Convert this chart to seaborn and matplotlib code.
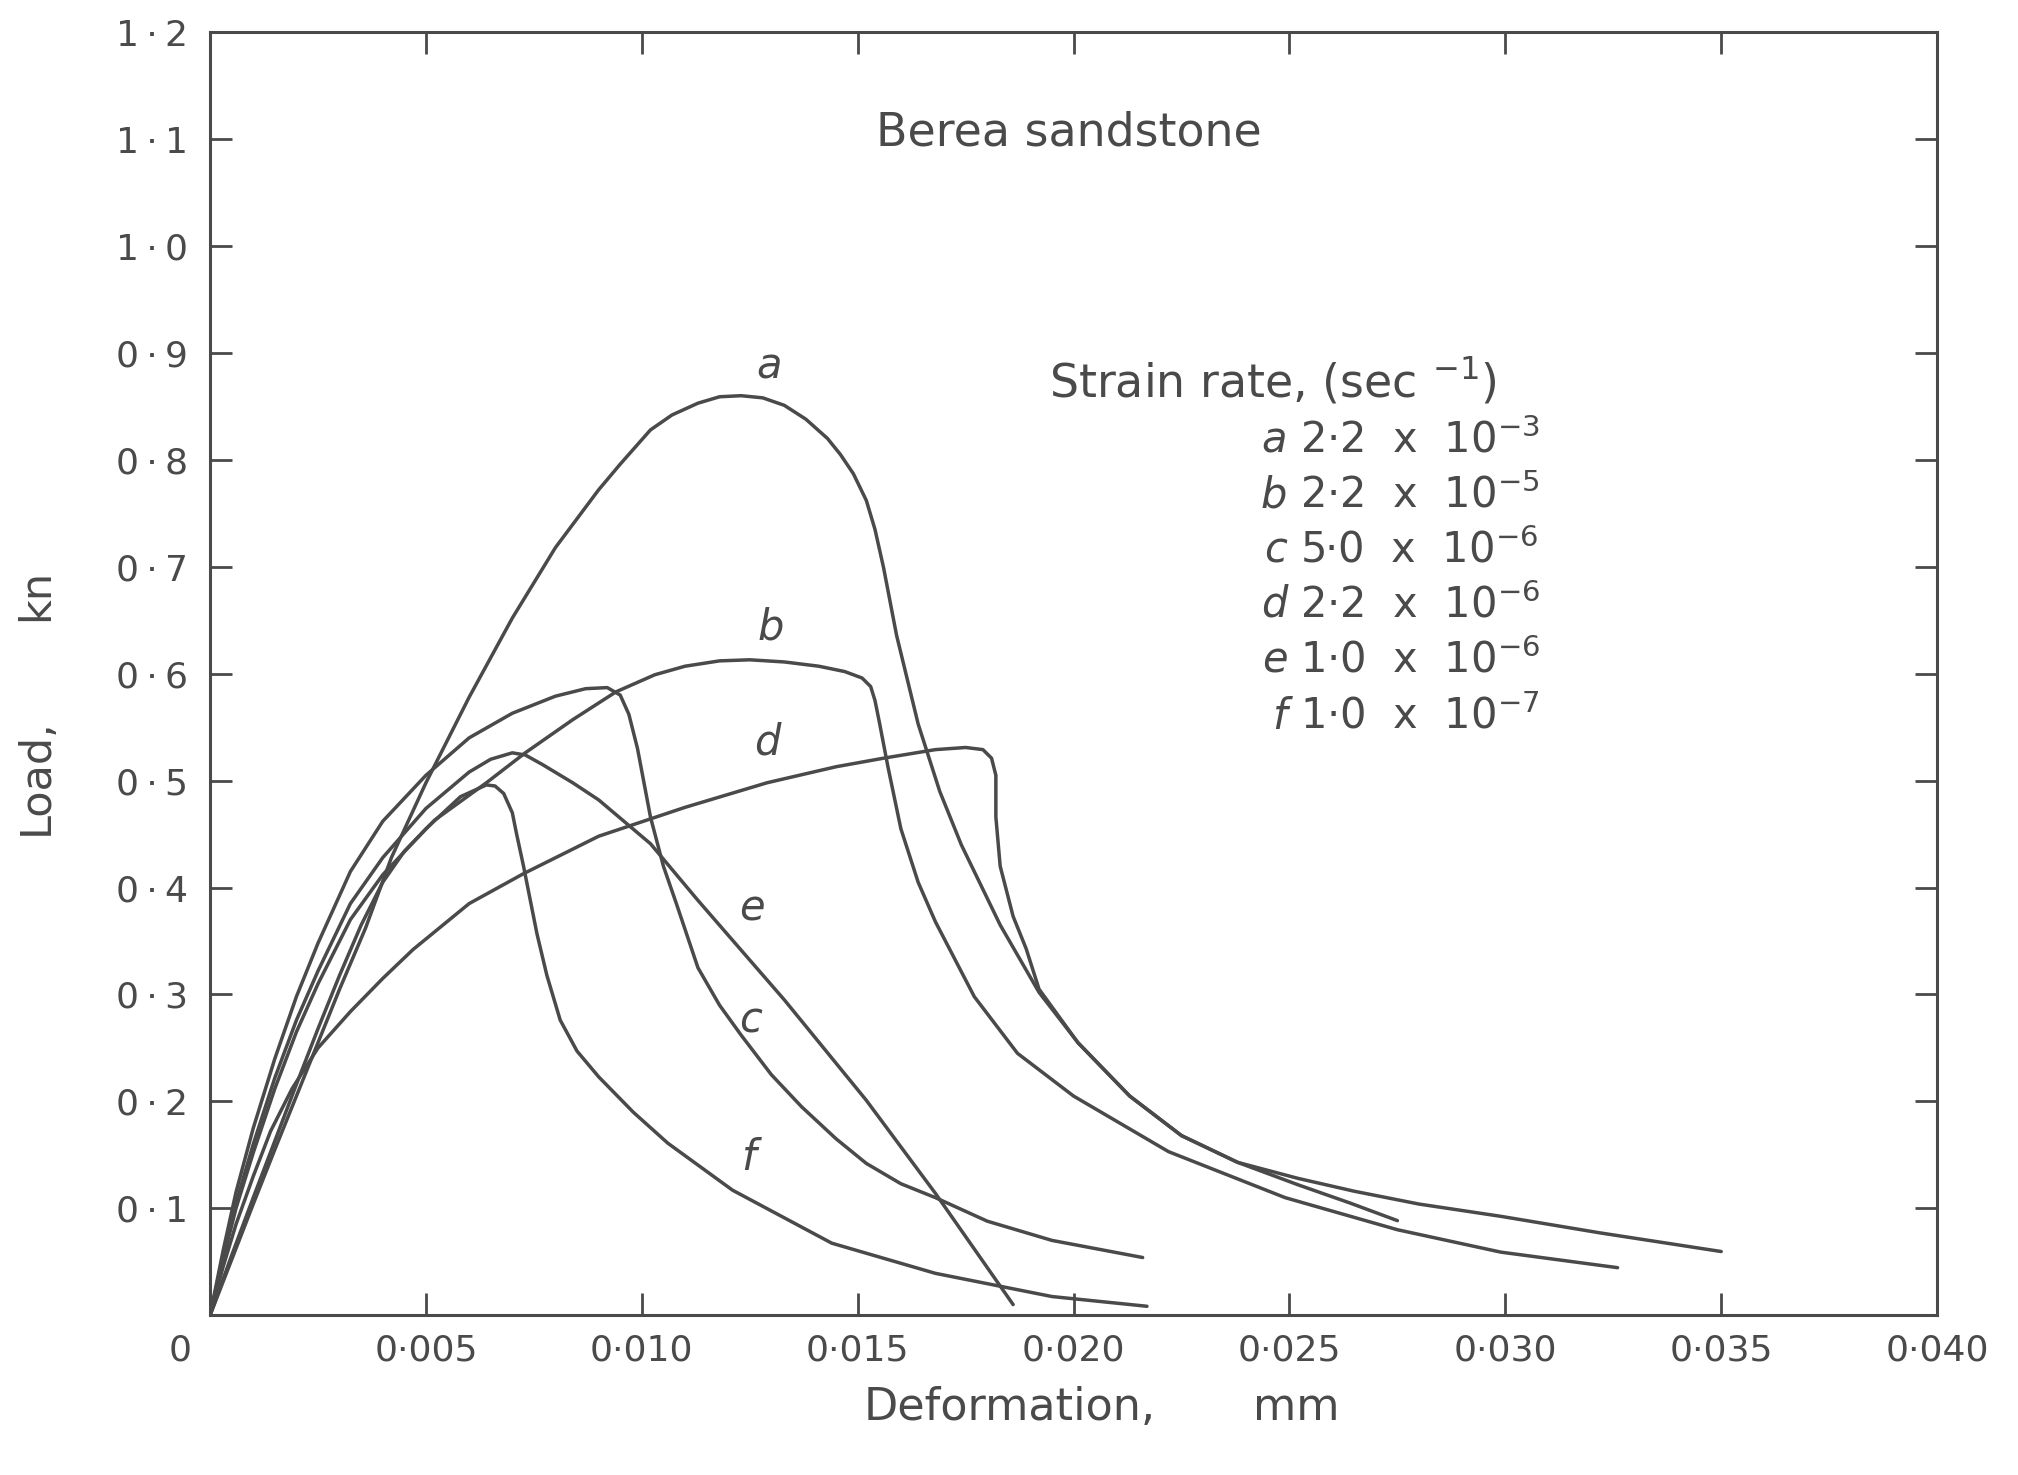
import numpy as np
import pandas as pd
import matplotlib.pyplot as plt
import seaborn as sns
from matplotlib.transforms import ScaledTranslation

# load (kn) vs deformation (mm)
a_def = [0, 0.0005, 0.001, 0.0015, 0.002, 0.0025, 0.003, 0.0036, 0.0042, 0.005, 0.006, 0.007, 0.008, 0.009,
         0.0095, 0.0102, 0.0107, 0.0113, 0.0118, 0.0123, 0.0128, 0.0133, 0.0138, 0.0143, 0.0146, 0.0149, 0.0152,
         0.0154, 0.0156, 0.0159, 0.0164, 0.0169, 0.0174, 0.0183, 0.0192, 0.0201, 0.0213, 0.0225, 0.0238, 0.0252,
         0.0265, 0.028, 0.0299, 0.0322, 0.035]
a_load = [0, 0.052, 0.104, 0.155, 0.205, 0.255, 0.305, 0.362, 0.428, 0.498, 0.578, 0.652, 0.718, 0.772,
          0.796, 0.828, 0.842, 0.853, 0.859, 0.860, 0.858, 0.851, 0.838, 0.820, 0.805, 0.787, 0.762,
          0.735, 0.699, 0.636, 0.553, 0.49, 0.44, 0.365, 0.302, 0.255, 0.205, 0.168, 0.143, 0.128,
          0.116, 0.104, 0.0925, 0.077, 0.0596]

b_def = [0, 0.0005, 0.001, 0.0015, 0.002, 0.0025, 0.003, 0.0035, 0.004, 0.0045, 0.0052, 0.0064, 0.0073, 0.0084,
         0.0094, 0.0103, 0.011, 0.0118, 0.0125, 0.0133, 0.0141, 0.0147, 0.0151, 0.0153, 0.0154, 0.0155, 0.0157,
         0.016, 0.0164, 0.0168, 0.0177, 0.0187, 0.02, 0.0222, 0.0249, 0.0275, 0.0299, 0.0326]
b_load = [0, 0.056, 0.11, 0.163, 0.216, 0.268, 0.318, 0.365, 0.405, 0.434, 0.463, 0.498, 0.526, 0.557,
          0.583, 0.599, 0.607, 0.612, 0.613, 0.611, 0.607, 0.602, 0.596, 0.588, 0.575, 0.555, 0.513,
          0.455, 0.405, 0.368, 0.298, 0.245, 0.205, 0.153, 0.110, 0.080, 0.059, 0.0445]

c_def = [0, 0.0003, 0.0006, 0.001, 0.0015, 0.002, 0.0025, 0.00325, 0.004, 0.005, 0.006, 0.007, 0.008, 0.0087,
         0.0092, 0.0095, 0.0097, 0.0099, 0.0102, 0.0105, 0.0108, 0.0113, 0.0118, 0.0123, 0.013, 0.0137, 0.0145,
         0.0152, 0.016, 0.0168, 0.018, 0.0195, 0.0216]
c_load = [0, 0.06, 0.115, 0.175, 0.24, 0.298, 0.348, 0.415, 0.462, 0.505, 0.54, 0.563, 0.579, 0.586,
          0.587, 0.58, 0.562, 0.53, 0.466, 0.42, 0.385, 0.325, 0.29, 0.262, 0.225, 0.195, 0.165,
          0.142, 0.123, 0.110, 0.088, 0.070, 0.054]

d_def = [0, 0.0003, 0.0006, 0.001, 0.0014, 0.0019, 0.0025, 0.00325, 0.004, 0.0047, 0.006, 0.00726, 0.009, 0.011,
         0.0129, 0.0145, 0.0156, 0.0168, 0.0175, 0.0179, 0.0181, 0.0182, 0.0182, 0.0183, 0.0186, 0.0189,
         0.0192, 0.0201, 0.0213, 0.0225, 0.0238, 0.0252, 0.0264, 0.0275]
d_load = [0, 0.045, 0.085, 0.13, 0.172, 0.212, 0.250, 0.284, 0.315, 0.342, 0.385, 0.413, 0.448, 0.475,
          0.498, 0.513, 0.521, 0.529, 0.531, 0.529, 0.521, 0.505, 0.466, 0.42, 0.373, 0.343,
          0.305, 0.255, 0.205, 0.168, 0.143, 0.122, 0.105, 0.0885]

e_def = [0, 0.0003, 0.0006, 0.001, 0.0015, 0.002, 0.0025, 0.00325, 0.004, 0.005, 0.006, 0.0065, 0.007,
         0.0073, 0.0077, 0.0084, 0.009, 0.0102, 0.0113, 0.0133, 0.0152, 0.0168, 0.0186]
e_load = [0, 0.055, 0.105, 0.16, 0.222, 0.276, 0.322, 0.385, 0.428, 0.474, 0.508, 0.52, 0.526,
          0.524, 0.515, 0.498, 0.482, 0.441, 0.388, 0.295, 0.201, 0.114, 0.01]

f_def = [0, 0.0003, 0.0006, 0.001, 0.0015, 0.002, 0.0025, 0.00325, 0.004, 0.005, 0.0058, 0.0064, 0.0066,
         0.0068, 0.007, 0.0071, 0.00726, 0.00757, 0.0078, 0.00811, 0.0085, 0.009, 0.0098, 0.0106, 0.0121,
         0.0144, 0.0168, 0.0195, 0.0217]
f_load = [0, 0.052, 0.10, 0.152, 0.212, 0.265, 0.31, 0.37, 0.412, 0.455, 0.485, 0.496, 0.495,
          0.488, 0.47, 0.45, 0.42, 0.357, 0.318, 0.276, 0.247, 0.223, 0.19, 0.161, 0.117,
          0.0674, 0.0392, 0.0175, 0.0084]

curve_names = ['a', 'b', 'c', 'd', 'e', 'f']
label_x = [0.01294, 0.01299, 0.01251, 0.01291, 0.01256, 0.01248]
label_y = [0.887, 0.643, 0.276, 0.536, 0.380, 0.147]

rate_values = ['2·2  x  10$^{-3}$', '2·2  x  10$^{-5}$', '5·0  x  10$^{-6}$',
               '2·2  x  10$^{-6}$', '1·0  x  10$^{-6}$', '1·0  x  10$^{-7}$']
rate_y = [0.8185, 0.7667, 0.715, 0.6644, 0.6126, 0.5597]

x_ticks = [0, 0.005, 0.010, 0.015, 0.020, 0.025, 0.030, 0.035, 0.040]
x_ticklabels = ['0', '0·005', '0·010', '0·015', '0·020', '0·025', '0·030', '0·035', '0·040']
y_ticks = [0.1, 0.2, 0.3, 0.4, 0.5, 0.6, 0.7, 0.8, 0.9, 1.0, 1.1, 1.2]
y_ticklabels = ['0\u2009·\u20091', '0\u2009·\u20092', '0\u2009·\u20093', '0\u2009·\u20094',
                '0\u2009·\u20095', '0\u2009·\u20096', '0\u2009·\u20097', '0\u2009·\u20098',
                '0\u2009·\u20099', '1\u2009·\u20090', '1\u2009·\u20091', '1\u2009·\u20092']

all_curves = {'a': (a_def, a_load), 'b': (b_def, b_load), 'c': (c_def, c_load),
              'd': (d_def, d_load), 'e': (e_def, e_load), 'f': (f_def, f_load)}
df = pd.concat([pd.DataFrame({'deformation': x, 'load': y, 'curve': k})
                for k, (x, y) in all_curves.items()], ignore_index=True)

sns.set_style('ticks')
plt.rcParams['font.family'] = ['DejaVu Sans']
ink = '#4a4a4a'

fig, ax = plt.subplots(figsize=(20.18, 14.75), dpi=100)
fig.subplots_adjust(left=0.1041, right=0.9599, bottom=0.1083, top=0.9782)

sns.lineplot(data=df, x='deformation', y='load', units='curve', estimator=None, sort=False,
             color=ink, lw=2.5, ax=ax)

ax.set_xlim(0, 0.040)
ax.set_ylim(0, 1.2)
ax.set_xticks(x_ticks)
ax.set_xticklabels(x_ticklabels)
ax.set_yticks(y_ticks)
ax.set_yticklabels(y_ticklabels)
ax.tick_params(direction='in', length=16, width=2, top=True, right=True, colors=ink,
               labelsize=26, pad=13)
ax.tick_params(axis='y', pad=16)
for s in ax.spines.values():
    s.set_linewidth(2.2)
    s.set_color(ink)

# the "0" sits left of the origin in the original
lbl0 = ax.get_xticklabels()[0]
lbl0.set_transform(lbl0.get_transform() + ScaledTranslation(-0.3, 0, fig.dpi_scale_trans))

ax.set_xlabel('')
ax.set_ylabel('')
ax.text(0.463, -0.072, 'Deformation,', transform=ax.transAxes, ha='center', va='center', fontsize=32, color=ink)
ax.text(0.629, -0.072, 'mm', transform=ax.transAxes, ha='center', va='center', fontsize=32, color=ink)
ax.text(-0.101, 0.42, 'Load,', transform=ax.transAxes, ha='center', va='center', rotation=90, fontsize=31, color=ink)
ax.text(-0.101, 0.561, 'kn', transform=ax.transAxes, ha='center', va='center', rotation=90, fontsize=31, color=ink)

ax.text(0.01988, 1.106, 'Berea sandstone', ha='center', va='center', fontsize=33, color=ink)
ax.text(0.01943, 0.873, 'Strain rate, (sec $^{-1}$)', ha='left', va='center', fontsize=33, color=ink)

for name, ry, val in zip(curve_names, rate_y, rate_values):
    ax.text(0.02495, ry, name, ha='right', va='center', fontsize=30, style='italic', color=ink)
    ax.text(0.02525, ry, val, ha='left', va='center', fontsize=30, color=ink)

for name, lx, ly in zip(curve_names, label_x, label_y):
    ax.text(lx, ly, name, ha='center', va='center', fontsize=30, style='italic', color=ink)

plt.savefig('out.png', dpi=100, facecolor='white')
